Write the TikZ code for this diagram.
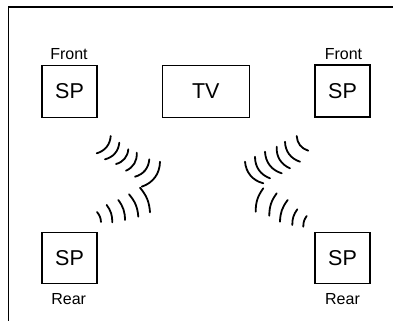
\documentclass[tikz,border=0pt]{standalone}
\usepackage{fontspec}
\setmainfont{Liberation Sans}
\begin{document}
\begin{tikzpicture}[x=1pt,y=-1pt,
  spbox/.style={draw,line width=1.1pt,inner sep=0pt,minimum width=55pt,minimum height=52pt,font=\fontsize{21.5}{21.5}\selectfont},
  lbl/.style={anchor=base,inner sep=0pt,font=\fontsize{16}{16}\selectfont},
  wave/.style={line width=1.8pt,line cap=round},
  frame/.style={line width=1.6pt}]
\useasboundingbox (0,0) rectangle (394,321);
% frame
\coordinate (fbl) at (8.5,321);
\coordinate (ftl) at (8.5,7);
\coordinate (ftr) at (393,7);
\draw[frame] (fbl) -- (ftl) -- (ftr);
% boxes
\node[spbox] (fl) at (69.5,91.5) {SP};
\node[spbox,minimum width=87pt] (tv) at (205.8,91.2) {TV};
\node[spbox] (fr) at (342.5,91) {SP};
\node[spbox,minimum height=51pt] (rl) at (69.5,258) {SP};
\node[spbox,minimum height=51pt] (rr) at (342.5,257.8) {SP};
% labels
\node[lbl] (flt) at (69,60) {Front};
\node[lbl] (frt) at (343.5,60) {Front};
\node[lbl] (rlt) at (68.7,304) {Rear};
\node[lbl] (rrt) at (342.5,304) {Rear};
% waves upper left
\foreach \a/\b/\c/\d in {96.7/153.3/110.7/136, 105/159.3/119.3/142.7, 116/164/128.3/149.3, 126/170.7/136.7/152.7, 135/176.7/149.3/159.3, 141.7/186.7/160/161.7}
  \draw[wave] (\a,\b) to[bend right=35] (\c,\d);
% waves lower left
\foreach \a/\b/\c/\d in {97/212/101/222, 106.7/205/112.3/222.3, 118.3/200/125/220, 129/194.3/138.3/216.7, 140/187.7/150/212.3}
  \draw[wave] (\a,\b) to[bend left=18] (\c,\d);
% waves upper right
\foreach \a/\b/\c/\d in {263.3/183.3/245/161.7, 270/178.3/255/156.7, 281.7/173.3/265/151.7, 290/168.3/276.7/146.7, 300/161.7/285/141.7, 308.3/150.7/296.7/136}
  \draw[wave] (\a,\b) to[bend left=35] (\c,\d);
% waves lower right
\foreach \a/\b/\c/\d in {263.3/188.3/255.7/211.7, 276.7/193.3/269.3/215.7, 287.7/200/280/221.7, 297.3/209.3/292.3/225, 306.7/216/303.3/226.7}
  \draw[wave] (\a,\b) to[bend right=18] (\c,\d);
\end{tikzpicture}
\end{document}
